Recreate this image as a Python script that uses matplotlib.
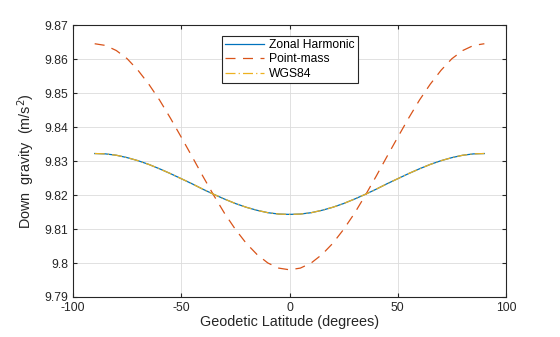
import matplotlib
matplotlib.use("Agg")
import matplotlib.pyplot as plt
from matplotlib.ticker import FuncFormatter

plt.rcParams["font.family"] = ["Liberation Sans", "DejaVu Sans"]
plt.rcParams["axes.unicode_minus"] = False

# geodetic latitude (deg) and down-gravity readings (m/s^2)
latitude = [-90, -85, -80, -75, -70, -65, -60, -55, -50, -45, -40, -35, -30, -25, -20, -15, -10, -5,
            0, 5, 10, 15, 20, 25, 30, 35, 40, 45, 50, 55, 60, 65, 70, 75, 80, 85, 90]
zonal = [9.8322, 9.8321, 9.8317, 9.8310, 9.8301, 9.8290, 9.8277, 9.8263, 9.8248, 9.8233,
         9.8217, 9.8202, 9.8188, 9.8175, 9.8164, 9.8155, 9.8148, 9.8144, 9.8143,
         9.8144, 9.8148, 9.8155, 9.8164, 9.8175, 9.8188, 9.8202, 9.8217, 9.8233,
         9.8248, 9.8263, 9.8277, 9.8290, 9.8301, 9.8310, 9.8317, 9.8321, 9.8322]
point_mass = [9.8645, 9.8640, 9.8625, 9.8601, 9.8567, 9.8526, 9.8479, 9.8426, 9.8370, 9.8313,
              9.8255, 9.8199, 9.8146, 9.8099, 9.8058, 9.8025, 9.8000, 9.7985, 9.7980,
              9.7985, 9.8000, 9.8025, 9.8058, 9.8099, 9.8146, 9.8199, 9.8255, 9.8313,
              9.8370, 9.8426, 9.8479, 9.8526, 9.8567, 9.8601, 9.8625, 9.8640, 9.8645]
wgs84 = [9.8322, 9.8321, 9.8317, 9.8310, 9.8301, 9.8290, 9.8277, 9.8263, 9.8248, 9.8233,
         9.8217, 9.8202, 9.8188, 9.8175, 9.8164, 9.8155, 9.8148, 9.8144, 9.8143,
         9.8144, 9.8148, 9.8155, 9.8164, 9.8175, 9.8188, 9.8202, 9.8217, 9.8233,
         9.8248, 9.8263, 9.8277, 9.8290, 9.8301, 9.8310, 9.8317, 9.8321, 9.8322]

x_ticks = [-100, -50, 0, 50, 100]
y_ticks = [9.79, 9.80, 9.81, 9.82, 9.83, 9.84, 9.85, 9.86, 9.87]

fig = plt.figure(figsize=(5.6, 3.37), dpi=100)
ax = fig.add_axes([0.1304, 0.1187, 0.7732, 0.807])

ax.plot(latitude, zonal, color="#0072BD", lw=0.9, label="Zonal Harmonic")
ax.plot(latitude, point_mass, color="#D95319", lw=0.9, ls=(0, (8, 6)), label="Point-mass")
ax.plot(latitude, wgs84, color="#EDB120", lw=0.9, ls=(0, (8, 2.5, 1, 2.5)), label="WGS84")

ax.set_xlim(-100, 100)
ax.set_ylim(9.79, 9.87)
ax.set_xticks(x_ticks)
ax.set_yticks(y_ticks)
ax.yaxis.set_major_formatter(FuncFormatter(lambda v, p: f"{v:g}"))
ax.tick_params(direction="in", length=3, width=0.8, top=True, right=True,
               labelsize=8.7, colors="#262626", labelcolor="#262626")
ax.grid(True, color="#dcdcdc", lw=0.6)
ax.set_axisbelow(True)
for s in ax.spines.values():
    s.set_color("#262626")
    s.set_linewidth(0.8)

ax.set_xlabel("Geodetic Latitude (degrees)", fontsize=10.4, color="#262626", labelpad=1)
ax.set_ylabel("Down  gravity  (m/s$^2$)", fontsize=10.4, color="#262626", labelpad=5)

leg = ax.legend(loc="upper left", bbox_to_anchor=(0.343, 0.96), fontsize=8.7,
                fancybox=False, framealpha=1, edgecolor="#262626",
                handlelength=3.3, handletextpad=0.4, borderpad=0.25,
                labelspacing=0.2, borderaxespad=0)
leg.get_frame().set_linewidth(0.8)

fig.savefig("out.png", dpi=100, facecolor="white")
